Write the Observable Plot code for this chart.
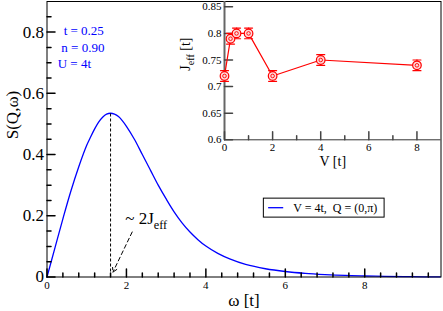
<!DOCTYPE html>
<html><head><meta charset="utf-8">
<script src="https://cdn.jsdelivr.net/npm/d3@7"></script>
<script src="https://cdn.jsdelivr.net/npm/@observablehq/plot@0.6"></script>
<style>
body{margin:0;background:#fff;}
#wrap{position:relative;width:443px;height:311px;overflow:hidden;background:#fff;}
#wrap svg{position:absolute;top:0;font-family:'Liberation Serif','Times New Roman',serif;}
#wrap svg text{font-family:'Liberation Serif','Times New Roman',serif;}
</style></head><body><div id="wrap"></div>
<script>
// ---- main panel data ----
const omega = [0,0.2,0.4,0.6,0.8,1.0,1.1,1.2,1.3,1.4,1.5,1.6,1.7,1.8,1.9,2.0,2.2,2.4,2.6,2.8,3.0,3.2,3.4,3.6,3.8,4.0,4.3,4.6,5.0,5.5,6.0,6.5,7.0,7.5,8.0,8.5,9.0,9.5,9.9];
const S     = [0,0.095,0.19,0.28,0.36,0.43,0.458,0.484,0.506,0.522,0.532,0.535,0.532,0.524,0.51,0.492,0.45,0.40,0.35,0.30,0.255,0.213,0.177,0.147,0.122,0.101,0.077,0.059,0.041,0.027,0.018,0.012,0.008,0.005,0.0033,0.002,0.0012,0.0006,0.0003];
const peakOmega = [1.6];
const peakS = [0.535];
const xMajor = [0,2,4,6,8];
const xMinor = [0.4,0.8,1.2,1.6,2.4,2.8,3.2,3.6,4.4,4.8,5.2,5.6,6.4,6.8,7.2,7.6,8.4,8.8,9.2,9.6];
const yMajor = [0,0.2,0.4,0.6,0.8];
const yMinor = [0.05,0.1,0.15,0.25,0.3,0.35,0.45,0.5,0.55,0.65,0.7,0.75,0.85];
const params = ["t = 0.25","n = 0.90","U = 4t"];
const legendLabel = ["V = 4t,  Q = (0,π)"];
const annotation = ["~ 2J_eff"];
const xLabel = ["ω [t]"];
const yLabel = ["S(Q,ω)"];

// ---- inset data ----
const V    = [0,0.25,0.5,1,2,4,8];
const J    = [0.72,0.79,0.80,0.80,0.72,0.75,0.74];
const Jerr = [0.01,0.01,0.01,0.01,0.01,0.01,0.01];
const inXMajor = [0,2,4,6,8];
const inXMinor = [1,3,5,7];
const inYMajor = [0.6,0.65,0.7,0.75,0.8,0.85];
const inXLabel = ["V [t]"];
const inYLabel = ["J_eff [t]"];

const FONT = "'Liberation Serif','Times New Roman',serif";
const tickShape = {draw(ctx, l){ ctx.moveTo(0,0); ctx.lineTo(0,-l); }};
const capShape = {draw(ctx, l){ ctx.moveTo(-l/2,0); ctx.lineTo(l/2,0); }};

const curveData = omega.map((w,i)=>({w, s:S[i]}));
const insetData = V.map((v,i)=>({v, j:J[i], e:Jerr[i]}));

function subscripts(svg){
  const ns = "http://www.w3.org/2000/svg";
  svg.querySelectorAll("text").forEach(t => {
    if (t.querySelector("tspan")) return;
    const m = (t.textContent||"").match(/^(.*)_(\w+)(.*)$/);
    if (!m) return;
    t.textContent = "";
    const a = document.createElementNS(ns,"tspan"); a.textContent = m[1];
    const b = document.createElementNS(ns,"tspan"); b.textContent = m[2];
    b.setAttribute("font-size","0.72em"); b.setAttribute("dy","0.42em");
    const c = document.createElementNS(ns,"tspan"); c.textContent = m[3];
    c.setAttribute("dy","-0.3em");
    t.append(a,b,c);
  });
}

const main = Plot.plot({
  width: 443, height: 311,
  marginLeft: 46.5, marginRight: 2.5, marginTop: 1, marginBottom: 34.5,
  style: {fontFamily: FONT, background: "white", overflow: "visible"},
  x: {domain: [0, 9.92]},
  y: {domain: [0, 0.9]},
  marks: [
    Plot.line(curveData, {x: "w", y: "s", stroke: "blue", strokeWidth: 1.3, curve: "catmull-rom"}),
    Plot.ruleX(peakOmega, {x: d=>d, y1: ()=>0, y2: (d,i)=>peakS[i], stroke: "black", strokeWidth: 1, strokeDasharray: "3,2"}),
    Plot.arrow([0], {x1: 2.145, y1: 0.147, x2: 1.66, y2: 0.016, stroke: "black", strokeWidth: 1, strokeDasharray: "4,3", headLength: 7}),
    Plot.text(annotation, {text: d=>d, x: 1.97, y: 0.19, textAnchor: "start", fontSize: 17, fontFamily: FONT}),
    Plot.text(params, {text: d=>d, x: [0.42,0.36,0.27], y: [0.803,0.749,0.698], textAnchor: "start", fontSize: 13, fill: "blue", fontFamily: FONT}),
    // legend
    Plot.rect([0], {x1: 5.46, x2: 8.5, y1: 0.194, y2: 0.256, fill: "white", stroke: "black", strokeWidth: 1}),
    Plot.ruleY([0], {y: 0.2264, x1: 5.58, x2: 5.96, stroke: "blue", strokeWidth: 1.3}),
    Plot.text(legendLabel, {text: d=>d, x: 6.2, y: 0.2264, textAnchor: "start", fontSize: 12, fontFamily: FONT}),
    // ticks
    Plot.vector(xMajor, {x: d=>d, y: ()=>0, length: 8, rotate: 0, anchor: "start", shape: tickShape, stroke: "black"}),
    Plot.vector(xMinor, {x: d=>d, y: ()=>0, length: 4, rotate: 0, anchor: "start", shape: tickShape, stroke: "black"}),
    Plot.vector(yMajor, {x: ()=>0, y: d=>d, length: 8, rotate: 90, anchor: "start", shape: tickShape, stroke: "black"}),
    Plot.vector(yMinor, {x: ()=>0, y: d=>d, length: 4, rotate: 90, anchor: "start", shape: tickShape, stroke: "black"}),
    Plot.axisX(xMajor, {tickSize: 0, tickPadding: 4, fontSize: 11, fontFamily: FONT, fontVariant: "normal", tickFormat: d=>String(d), label: null}),
    Plot.axisY(yMajor, {tickSize: 0, tickPadding: 3, fontSize: 17, fontFamily: FONT, fontVariant: "normal", tickFormat: d=>String(d), label: null}),
    Plot.text(xLabel, {text: d=>d, frameAnchor: "bottom", dy: 24, lineAnchor: "middle", fontSize: 17, fontFamily: FONT}),
    Plot.text(yLabel, {text: d=>d, frameAnchor: "left", dx: -34.5, rotate: -90, lineAnchor: "middle", fontSize: 17, fontFamily: FONT}),
    Plot.frame({stroke: "black", strokeWidth: 1})
  ]
});
subscripts(main);
main.style.left = "0px";
document.getElementById("wrap").appendChild(main);

const inset = Plot.plot({
  width: 273, height: 170,
  marginLeft: 54, marginRight: 2.5, marginTop: 1, marginBottom: 30.7,
  style: {fontFamily: FONT, background: "transparent", overflow: "visible"},
  x: {domain: [0, 9]},
  y: {domain: [0.6, 0.86]},
  marks: [
    Plot.ruleX([0], {stroke: "#666", strokeWidth: 2}),
    Plot.ruleY([0.6], {stroke: "#333", strokeWidth: 1}),
    Plot.vector(inXMajor, {x: d=>d, y: ()=>0.6, length: 8, rotate: 0, anchor: "start", shape: tickShape, stroke: "#444"}),
    Plot.vector(inXMinor, {x: d=>d, y: ()=>0.6, length: 4, rotate: 0, anchor: "start", shape: tickShape, stroke: "#444"}),
    Plot.vector(inYMajor, {x: ()=>0, y: d=>d, length: 8, rotate: 90, anchor: "start", shape: tickShape, stroke: "#444"}),
    Plot.axisX(inXMajor, {tickSize: 0, tickPadding: 3, fontSize: 11, fontFamily: FONT, fontVariant: "normal", tickFormat: d=>String(d), label: null}),
    Plot.axisY(inYMajor, {tickSize: 0, tickPadding: 3, fontSize: 11, fontFamily: FONT, fontVariant: "normal", tickFormat: d=>String(d), label: null}),
    Plot.text(inXLabel, {text: d=>d, frameAnchor: "bottom", dy: 22, lineAnchor: "middle", fontSize: 14, fontFamily: FONT}),
    Plot.text(inYLabel, {text: d=>d, frameAnchor: "left", dx: -39, rotate: -90, lineAnchor: "middle", fontSize: 14, fontFamily: FONT}),
    Plot.line(insetData, {x: "v", y: "j", stroke: "red", strokeWidth: 1.2}),
    Plot.ruleX(insetData, {x: "v", y1: d=>d.j-d.e, y2: d=>d.j+d.e, stroke: "red", strokeWidth: 1.2}),
    Plot.vector(insetData, {x: "v", y: d=>d.j+d.e, length: 8, rotate: 0, anchor: "start", shape: capShape, stroke: "red", strokeWidth: 1.2}),
    Plot.vector(insetData, {x: "v", y: d=>d.j-d.e, length: 8, rotate: 0, anchor: "start", shape: capShape, stroke: "red", strokeWidth: 1.2}),
    Plot.dot(insetData, {x: "v", y: "j", r: 4.3, stroke: "red", fill: "#ffd8d8", strokeWidth: 1.2}),
    Plot.dot(insetData, {x: "v", y: "j", r: 1.8, stroke: "red", fill: "none", strokeWidth: 0.9})
  ]
});
subscripts(inset);
inset.style.left = "170px";
document.getElementById("wrap").appendChild(inset);
</script>
</body></html>
